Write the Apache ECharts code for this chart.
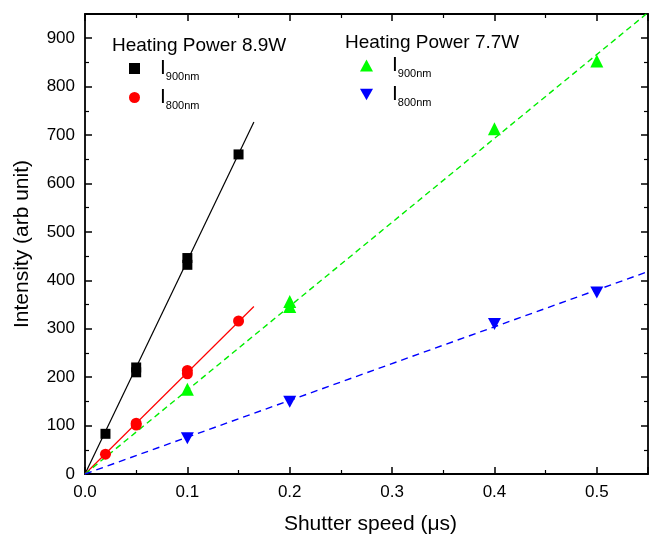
<!DOCTYPE html>
<html><head><meta charset="utf-8">
<script src="https://cdn.jsdelivr.net/npm/echarts@6/dist/echarts.min.js"></script>
<style>html,body{margin:0;padding:0;background:#fff}#c{width:650px;height:535px}</style>
</head><body><div id="c"></div>
<script>
// Shutter speed (µs) vs intensity (arb unit)
const p89_900 = [[0.02, 83], [0.05, 210], [0.05, 220], [0.1, 432], [0.1, 446], [0.15, 660]];
const p89_800 = [[0.02, 41], [0.05, 101], [0.05, 105], [0.1, 207], [0.1, 214], [0.15, 316]];
const p77_900 = [[0.1, 175], [0.2, 346], [0.2, 356], [0.4, 713], [0.5, 853]];
const p77_800 = [[0.1, 74], [0.2, 149], [0.4, 310], [0.5, 375]];
// linear fits (through origin), endpoints
const fit89_900 = [[0, 0], [0.165, 727]];
const fit89_800 = [[0, 0], [0.165, 346]];
const fit77_900 = [[0, 0], [0.55, 953]];
const fit77_800 = [[0, 0], [0.55, 418]];
const xTicks = { min: 0, max: 0.55, interval: 0.1 };
const yTicks = { min: 0, max: 950, interval: 100 };

const FONT = 'Liberation Sans';
const downTri = 'path://M0,0 L10,0 L5,9 Z';
const names = {
  a900: '{i|I}{s|900nm}', a800: '{i|I}{s|800nm}',
  b900: '{i|I}{s|900nm}', b800: '{i|I}{s|800nm}'
};
const rich = {
  i: { fontFamily: FONT, fontSize: 21, color: '#000' },
  s: { fontFamily: FONT, fontSize: 11, color: '#000', padding: [16, 0, 0, 0] }
};
function axisCommon(pos, showLabel, extent) {
  return {
    type: 'value', position: pos, min: extent.min, max: extent.max, interval: extent.interval,
    axisLine: { show: true, onZero: false, lineStyle: { color: '#000', width: 1.8 } },
    axisTick: { show: true, inside: true, length: 7, lineStyle: { color: '#000', width: 1.5 } },
    minorTick: { show: true, splitNumber: 2, length: 4, lineStyle: { color: '#000', width: 1.2 } },
    splitLine: { show: false },
    axisLabel: { show: showLabel, showMaxLabel: false, color: '#000', fontFamily: FONT, fontSize: 17, margin: 10 }
  };
}
const xb = axisCommon('bottom', true, xTicks);
xb.name = 'Shutter speed (\u03bcs)'; xb.nameLocation = 'middle'; xb.nameGap = 40;
xb.nameTextStyle = { fontFamily: FONT, fontSize: 21, color: '#000', padding: [0, 0, 0, 8] };
xb.axisLabel.formatter = v => v.toFixed(1);
xb.axisLabel.margin = 10;
const yl = axisCommon('left', true, yTicks);
yl.name = 'Intensity (arb unit)'; yl.nameLocation = 'middle'; yl.nameGap = 52;
yl.nameTextStyle = { fontFamily: FONT, fontSize: 21, color: '#000' };
const xt = axisCommon('top', false, xTicks);
const yr = axisCommon('right', false, yTicks);

const chart = echarts.init(document.getElementById('c'), null, { renderer: 'canvas' });
chart.setOption({
  animation: false,
  backgroundColor: '#fff',
  grid: { left: 85, right: 2, top: 14, bottom: 61, containLabel: false, outerBoundsMode: 'none' },
  xAxis: [xb, xt],
  yAxis: [yl, yr],
  title: [
    { text: 'Heating Power 8.9W', left: 107, top: 31, textStyle: { fontFamily: FONT, fontSize: 19, fontWeight: 'normal', color: '#000' } },
    { text: 'Heating Power 7.7W', left: 340, top: 28, textStyle: { fontFamily: FONT, fontSize: 19, fontWeight: 'normal', color: '#000' } }
  ],
  legend: [
    { data: ['a900', 'a800'], orient: 'vertical', left: 124, top: 53, itemGap: 5, itemWidth: 11, itemHeight: 11,
      formatter: n => names[n], textStyle: { rich: rich, padding: [0, 0, 0, 15] } },
    { data: ['b900', 'b800'], orient: 'vertical', left: 355, top: 50, itemGap: 5, itemWidth: 13, itemHeight: 12,
      formatter: n => names[n], textStyle: { rich: rich, padding: [0, 0, 0, 14] } }
  ],
  series: [
    { name: 'fit1', type: 'line', data: fit89_900, showSymbol: false, lineStyle: { color: '#000', width: 1.2 }, silent: true, z: 1 },
    { name: 'fit2', type: 'line', data: fit89_800, showSymbol: false, lineStyle: { color: '#ff0000', width: 1.2 }, silent: true, z: 1 },
    { name: 'fit3', type: 'line', data: fit77_900, showSymbol: false, lineStyle: { color: '#00ee00', width: 1.4, type: [6, 4] }, silent: true, z: 1 },
    { name: 'fit4', type: 'line', data: fit77_800, showSymbol: false, lineStyle: { color: '#0000ff', width: 1.4, type: [7, 5] }, silent: true, z: 1 },
    { name: 'a900', type: 'scatter', data: p89_900, symbol: 'rect', symbolSize: 10, itemStyle: { color: '#000', opacity: 1 }, z: 3 },
    { name: 'a800', type: 'scatter', data: p89_800, symbol: 'circle', symbolSize: 11, itemStyle: { color: '#ff0000', opacity: 1 }, z: 3 },
    { name: 'b900', type: 'scatter', data: p77_900, symbol: 'triangle', symbolSize: 13, itemStyle: { color: '#00ff00', opacity: 1 }, z: 3 },
    { name: 'b800', type: 'scatter', data: p77_800, symbol: downTri, symbolSize: [13, 12], itemStyle: { color: '#0000ff', opacity: 1 }, z: 3 }
  ]
});
</script>
</body></html>
